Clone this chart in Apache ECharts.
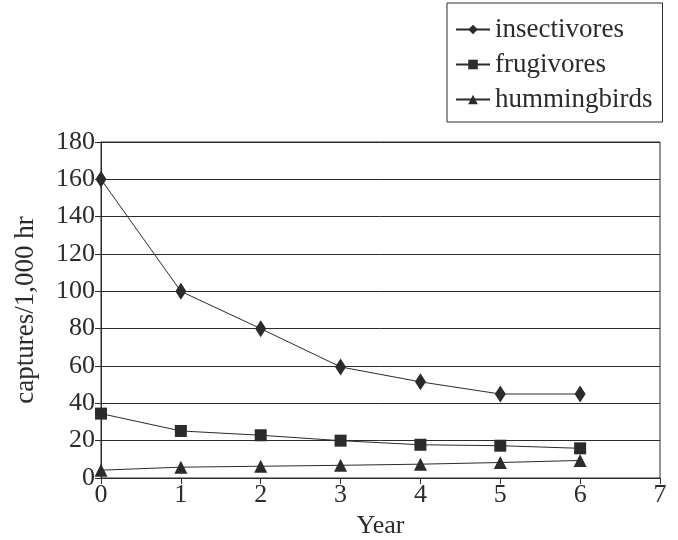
<!DOCTYPE html>
<html><head><meta charset="utf-8">
<script src="https://cdn.jsdelivr.net/npm/echarts@6/dist/echarts.min.js"></script>
<style>html,body{margin:0;padding:0;background:#fff}#c{width:678px;height:540px}</style>
</head><body><div id="c"></div>
<script>
const years = [0, 1, 2, 3, 4, 5, 6];
const insectivores = [160, 100, 80, 59.5, 51.5, 45, 45];
const frugivores = [34.5, 25.2, 22.9, 20, 17.8, 17.3, 15.9];
const hummingbirds = [4.2, 5.8, 6.3, 6.8, 7.4, 8.3, 9.4];
const seriesNames = ['insectivores', 'frugivores', 'hummingbirds'];
const xTicks = [0, 7, 1];
const yTicks = [0, 180, 20];

const font = 'Liberation Serif, Times New Roman, serif';
const ink = '#2b2b2b';
function pairs(vals) { return years.map((y, i) => [y, vals[i]]); }
const chart = echarts.init(document.getElementById('c'));
chart.setOption({
  animation: false,
  backgroundColor: '#fff',
  grid: { left: 101, right: 18, top: 142, bottom: 62, show: true, borderColor: ink, borderWidth: 1,
          containLabel: false, outerBoundsMode: 'none' },
  legend: {
    orient: 'vertical', left: 447, top: 3,
    padding: [13, 10, 9, 8],
    borderColor: ink, borderWidth: 1,
    itemWidth: 34, itemHeight: 12, itemGap: 8,
    textStyle: { fontFamily: font, fontSize: 27, color: ink },
    data: seriesNames
  },
  xAxis: {
    type: 'value', min: xTicks[0], max: xTicks[1], interval: xTicks[2],
    name: 'Year', nameLocation: 'middle', nameGap: 34,
    nameTextStyle: { fontFamily: font, fontSize: 26, color: ink },
    axisLine: { show: true, lineStyle: { color: ink, width: 1 } },
    axisTick: { show: true, length: 6, lineStyle: { color: ink } },
    axisLabel: { fontFamily: font, fontSize: 26, color: ink, margin: 4 },
    splitLine: { show: false }
  },
  yAxis: {
    type: 'value', min: yTicks[0], max: yTicks[1], interval: yTicks[2],
    name: 'captures/1,000 hr', nameLocation: 'middle', nameGap: 62,
    nameTextStyle: { fontFamily: font, fontSize: 27, color: ink },
    axisLine: { show: true, lineStyle: { color: ink, width: 1 } },
    axisTick: { show: true, length: 6, lineStyle: { color: ink } },
    axisLabel: { fontFamily: font, fontSize: 26, color: ink, margin: 6 },
    splitLine: { show: true, lineStyle: { color: ink, width: 1 } }
  },
  series: [
    { name: seriesNames[0], type: 'line', data: pairs(insectivores), symbol: 'diamond', symbolSize: [11, 17],
      lineStyle: { color: ink, width: 1 }, itemStyle: { color: ink } },
    { name: seriesNames[1], type: 'line', data: pairs(frugivores), symbol: 'rect', symbolSize: 12,
      lineStyle: { color: ink, width: 1 }, itemStyle: { color: ink } },
    { name: seriesNames[2], type: 'line', data: pairs(hummingbirds), symbol: 'triangle', symbolSize: 13,
      lineStyle: { color: ink, width: 1 }, itemStyle: { color: ink } }
  ]
});
</script></body></html>
